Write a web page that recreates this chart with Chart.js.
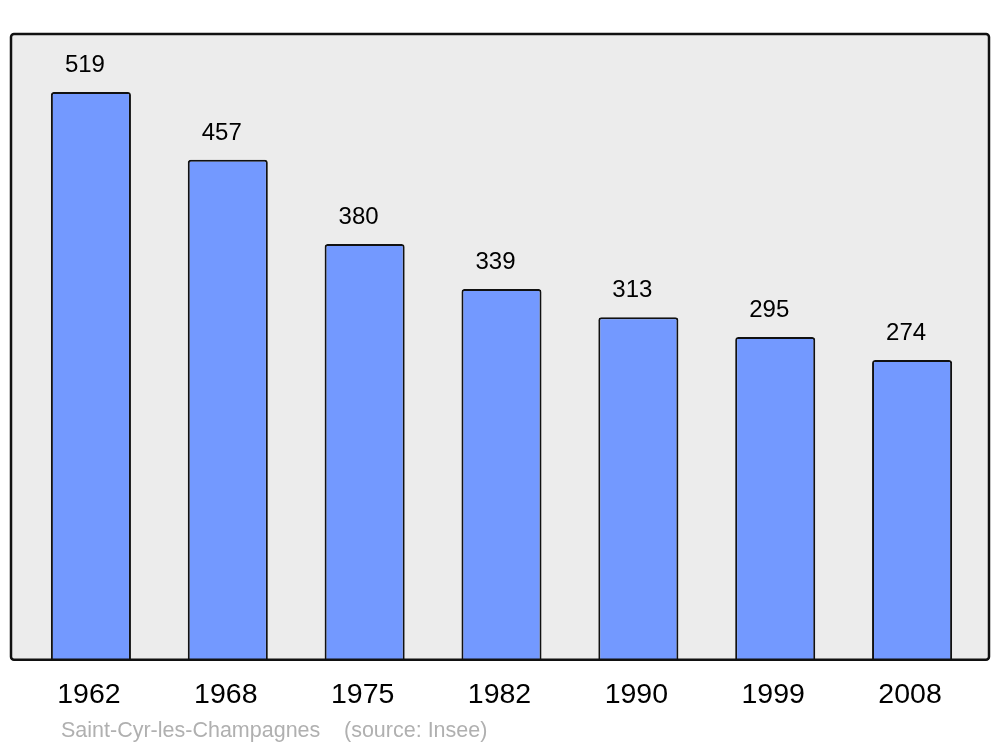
<!DOCTYPE html>
<html lang="fr">
<head>
<meta charset="UTF-8">
<title>Saint-Cyr-les-Champagnes - population</title>
<script src="https://cdn.jsdelivr.net/npm/chart.js"></script>
<style>
  html, body { margin: 0; padding: 0; background: #ffffff; }
  #wrap { position: relative; width: 1000px; height: 747px; }
</style>
</head>
<body>
<div id="wrap"><canvas id="chart" width="1000" height="747"></canvas></div>
<script>
// données
const years = ['1962', '1968', '1975', '1982', '1990', '1999', '2008'];
const population = [519, 457, 380, 339, 313, 295, 274];
const yMax = 572;
const footerName = 'Saint-Cyr-les-Champagnes';
const footerSource = '(source: Insee)';

const FONT = '"Liberation Sans", Arial, sans-serif';

// cadre gris arrondi derrière les barres
const framePlugin = {
  id: 'frame',
  beforeDatasetsDraw(chart) {
    const { ctx, chartArea } = chart;
    ctx.save();
    ctx.beginPath();
    ctx.roundRect(11, chartArea.top, 978, chartArea.bottom - chartArea.top, 3);
    ctx.fillStyle = '#ececec';
    ctx.fill();
    ctx.restore();
  },
  afterDatasetsDraw(chart) {
    const { ctx, chartArea } = chart;
    ctx.save();
    // étiquettes de valeur au-dessus des barres
    ctx.font = '24px ' + FONT;
    ctx.fillStyle = '#000000';
    ctx.textAlign = 'center';
    ctx.textBaseline = 'alphabetic';
    chart.getDatasetMeta(0).data.forEach((bar, i) => {
      ctx.fillText(String(population[i]), bar.x - 6, bar.y - 20);
    });
    // bordure du cadre
    ctx.beginPath();
    ctx.roundRect(11, chartArea.top, 978, chartArea.bottom - chartArea.top, 3);
    ctx.lineWidth = 2.5;
    ctx.strokeStyle = '#111111';
    ctx.stroke();
    // source
    ctx.font = '21.5px ' + FONT;
    ctx.fillStyle = '#b0b0b0';
    ctx.textAlign = 'left';
    ctx.fillText(footerName, 61, 737);
    ctx.fillText(footerSource, 344, 737);
    ctx.restore();
  }
};

new Chart(document.getElementById('chart'), {
  type: 'bar',
  data: {
    labels: years,
    datasets: [{
      data: population,
      backgroundColor: '#7399ff',
      borderColor: '#111111',
      borderWidth: 2,
      borderRadius: { topLeft: 3, topRight: 3, bottomLeft: 0, bottomRight: 0 },
      borderSkipped: 'bottom',
      categoryPercentage: 1,
      barPercentage: 0.585
    }]
  },
  options: {
    responsive: false,
    animation: false,
    devicePixelRatio: 1,
    layout: { padding: { left: 22.5, right: 19.5, top: 34, bottom: 17 } },
    plugins: { legend: { display: false }, tooltip: { enabled: false } },
    scales: {
      x: {
        grid: { display: false, drawTicks: false },
        border: { display: false },
        ticks: { color: '#000000', font: { family: FONT, size: 28.5 }, padding: 18, labelOffset: -2 }
      },
      y: {
        display: false,
        min: 0,
        max: yMax
      }
    }
  },
  plugins: [framePlugin]
});
</script>
</body>
</html>
